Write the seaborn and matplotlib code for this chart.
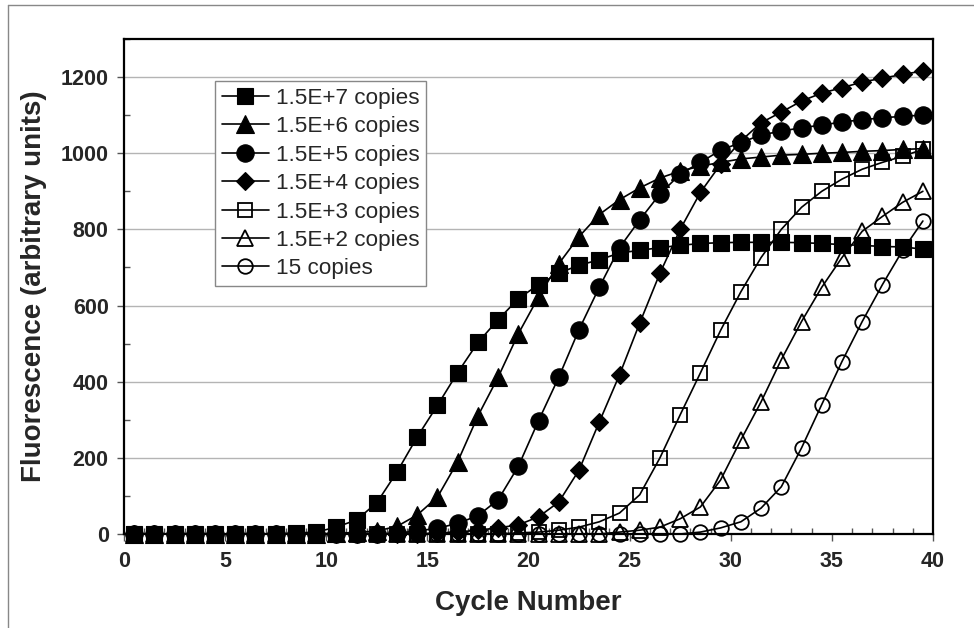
import numpy as np
import pandas as pd
import seaborn as sns
import matplotlib.pyplot as plt
from matplotlib.lines import Line2D
from matplotlib.ticker import MultipleLocator

# Data (cycles 1..40)
cycles = list(range(1, 41))
s_7 = [0, 0, 0, 0, 0, 0, 0, 0, 2, 5, 18, 37, 82, 163, 255, 338, 424, 503, 563, 618,
       655, 685, 706, 720, 738, 745, 752, 758, 763, 765, 766, 766, 766, 765, 763, 760, 758, 755, 754, 748]
s_6 = [0, 0, 0, 0, 0, 0, 0, 0, 0, 0, 2, 4, 8, 20, 50, 97, 190, 310, 412, 526,
       623, 710, 781, 839, 878, 909, 935, 953, 966, 976, 985, 990, 995, 997, 1000, 1002, 1005, 1007, 1010, 1012]
s_5 = [0, 0, 0, 0, 0, 0, 0, 0, 0, 0, 0, 0, 0, 2, 8, 15, 28, 48, 90, 178,
       298, 412, 537, 648, 752, 825, 893, 945, 976, 1008, 1028, 1048, 1058, 1067, 1074, 1082, 1088, 1093, 1097, 1100]
s_4 = [0, 0, 0, 0, 0, 0, 0, 0, 0, 0, 0, 0, 0, 0, 0, 3, 5, 10, 16, 24,
       45, 84, 168, 294, 418, 554, 685, 800, 897, 971, 1032, 1080, 1108, 1137, 1158, 1172, 1187, 1197, 1207, 1216]
s_3 = [0, 0, 0, 0, 0, 0, 0, 0, 0, 0, 0, 0, 0, 0, 0, 0, 0, 0, 0, 3,
       5, 10, 18, 32, 55, 103, 200, 313, 423, 535, 636, 726, 800, 858, 900, 932, 958, 976, 992, 1010]
s_2 = [0, 0, 0, 0, 0, 0, 0, 0, 0, 0, 0, 0, 0, 0, 0, 0, 0, 0, 0, 0,
       0, 0, 0, 0, 5, 10, 18, 40, 71, 142, 247, 347, 458, 558, 648, 726, 795, 834, 871, 900]
s_1 = [0, 0, 0, 0, 0, 0, 0, 0, 0, 0, 0, 0, 0, 0, 0, 0, 0, 0, 0, 0,
       0, 0, 0, 0, 0, 0, 0, 0, 5, 16, 32, 68, 124, 226, 340, 453, 558, 655, 745, 822]

labels = ['1.5E+7 copies', '1.5E+6 copies', '1.5E+5 copies', '1.5E+4 copies',
          '1.5E+3 copies', '1.5E+2 copies', '15 copies']
series = [s_7, s_6, s_5, s_4, s_3, s_2, s_1]

# marker, size, filled
styles = [('s', 12, True), ('^', 12.5, True), ('o', 12.5, True), ('D', 9, True),
          ('s', 10.5, False), ('^', 11, False), ('o', 10.5, False)]

sns.set_theme(style='white')
plt.rcParams['font.family'] = ['Liberation Sans', 'DejaVu Sans']

fig = plt.figure(figsize=(9.74, 6.28), dpi=100)
ax = fig.add_axes([0.1273, 0.1497, 0.8306, 0.7882])

# category-style x positions: point for cycle n sits at n - 0.5
for vals, lab, (mk, ms, filled) in zip(series, labels, styles):
    df = pd.DataFrame({'x': np.array(cycles) - 0.5, 'y': vals})
    sns.lineplot(data=df, x='x', y='y', ax=ax, color='black', linewidth=1.2,
                 marker=mk, markersize=ms,
                 markerfacecolor='black' if filled else 'none',
                 markeredgecolor='black', markeredgewidth=1.3 if not filled else 0.8,
                 label=lab, clip_on=False)

ax.set_xlim(0, 40)
ax.set_ylim(0, 1300)
ax.xaxis.set_major_locator(MultipleLocator(5))
ax.xaxis.set_minor_locator(MultipleLocator(1))
ax.yaxis.set_major_locator(MultipleLocator(200))
ax.yaxis.set_minor_locator(MultipleLocator(100))
ax.set_yticks([0, 200, 400, 600, 800, 1000, 1200])

ax.grid(axis='y', which='major', color='#b4b4b4', linewidth=1.0)
ax.set_axisbelow(True)
for sp in ax.spines.values():
    sp.set_color('black')
    sp.set_linewidth(1.6)

ax.tick_params(axis='both', which='major', direction='out', length=5, width=1,
               color='#555555', labelsize=15.5)
ax.tick_params(axis='both', which='minor', direction='in', length=4, width=1,
               color='#555555', left=True, bottom=True)
ax.tick_params(axis='x', which='major', pad=7, bottom=True)
ax.tick_params(axis='y', which='major', pad=6, left=True)
for t in ax.get_xticklabels() + ax.get_yticklabels():
    t.set_fontweight('bold')

ax.set_xlabel('Cycle Number', fontsize=20, fontweight='bold', labelpad=13)
ax.set_ylabel('Fluorescence (arbitrary units)', fontsize=20, fontweight='bold', labelpad=10)

leg = ax.legend(loc='upper left', bbox_to_anchor=(0.1125, 0.915), borderaxespad=0,
                fontsize=16.2, frameon=True, fancybox=False, framealpha=1,
                edgecolor='#888888', handlelength=2.1, handletextpad=0.3,
                labelspacing=0.33, borderpad=0.3)
leg.get_frame().set_linewidth(1.0)

# outer frame lines (top and left) like the source page
fig.add_artist(Line2D([8 / 974, 1], [1 - 5 / 628, 1 - 5 / 628], color='#888888', linewidth=1))
fig.add_artist(Line2D([8 / 974, 8 / 974], [0, 1 - 5 / 628], color='#888888', linewidth=1))

fig.savefig('out.png', dpi=100)
